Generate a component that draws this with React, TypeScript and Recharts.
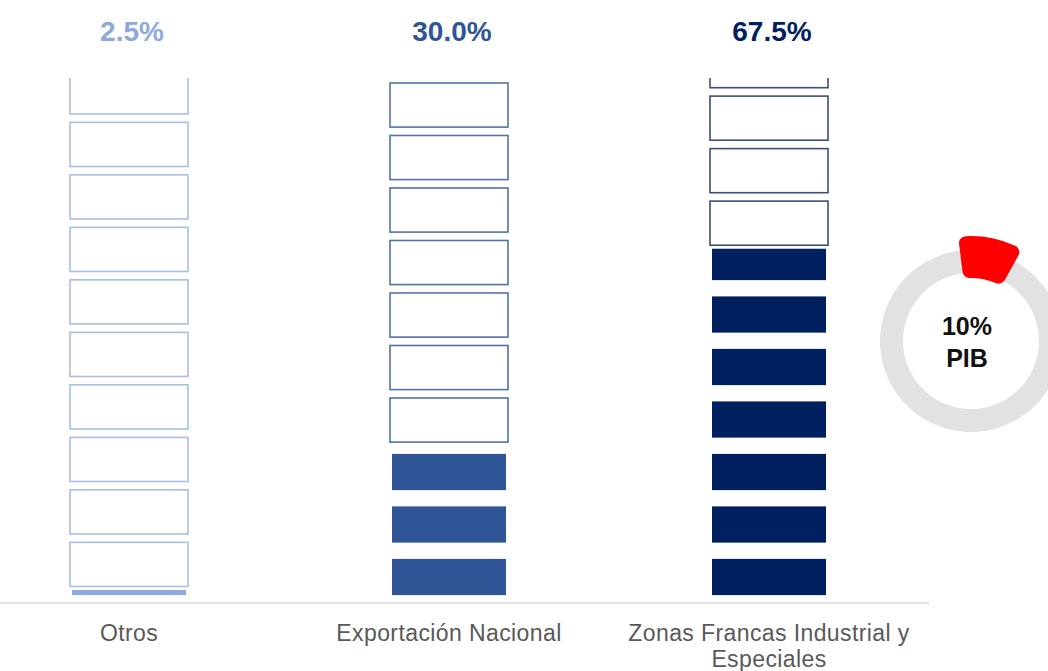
import { Bar, BarChart, Cell, LabelList, Pie, PieChart, XAxis, YAxis } from 'recharts'

const categories = ['Otros', 'Exportación Nacional', 'Zonas Francas Industrial y Especiales']
const shares = [2.5, 30.0, 67.5]
const remainders = [97.5, 70.0, 32.5]
const pibShare = [10, 90]
const pibText = ['10%', 'PIB']

const fillColors = ['#8EA9DB', '#2F5597', '#002060']
const outlineColors = ['#A9BEE6', '#5471AC', '#3B4F7A']
const FONT = '"Liberation Sans", Arial, sans-serif'

const data = categories.map((name, i) => ({ name, share: shares[i], rest: remainders[i] }))
const ring = [{ v: 100 }]
const pibData = pibShare.map((v, i) => ({ name: i === 0 ? 'PIB' : 'resto', v }))

// each 10% is one block, drawn inside the stacked segment and clipped to it
function blocks(key: 'share' | 'rest') {
  return (props: any) => {
    const { x, y, width, height, index, payload } = props
    const val = payload[key]
    if (!height || !val) return <g />
    const unit = height / (val / 10)
    const n = Math.ceil(val / 10 - 1e-9)
    const id = `clip-${key}-${index}`
    const rects = []
    for (let k = 0; k < n; k++) {
      const bottom = y + height - k * unit
      if (key === 'share') {
        rects.push(
          <rect key={k} x={x + 3} y={bottom - 0.84 * unit} width={width - 6} height={0.69 * unit} fill={fillColors[index]} />,
        )
      } else {
        rects.push(
          <rect
            key={k}
            x={x + 1}
            y={bottom - 0.905 * unit}
            width={width - 2}
            height={0.84 * unit}
            fill="#fff"
            stroke={outlineColors[index]}
            strokeWidth={1.6}
          />,
        )
      }
    }
    return (
      <g>
        <defs>
          <clipPath id={id}>
            <rect x={x - 3} y={y} width={width + 6} height={height} />
          </clipPath>
        </defs>
        <g clipPath={`url(#${id})`}>{rects}</g>
      </g>
    )
  }
}

// wrap words into lines of at most 26 characters
function wrap(label: string) {
  const lines: string[] = []
  let cur = ''
  for (const w of label.split(' ')) {
    const next = cur ? `${cur} ${w}` : w
    if (next.length > 26 && cur) {
      lines.push(cur)
      cur = w
    } else cur = next
  }
  if (cur) lines.push(cur)
  return lines
}

function CategoryTick(props: any) {
  const { x, y, payload } = props
  return (
    <text
      x={x}
      y={y + 36}
      textAnchor="middle"
      fontSize={23}
      letterSpacing={0.4}
      fontFamily={FONT}
      fill="#595959"
    >
      {wrap(payload.value).map((line, i) => (
        <tspan key={i} x={x} dy={i === 0 ? 0 : 26}>
          {line}
        </tspan>
      ))}
    </text>
  )
}

export default function App() {
  return (
    <div style={{ position: 'absolute', left: 0, top: 0, width: 1048, height: 671, overflow: 'hidden', background: '#fff' }}>
      <BarChart
        width={960}
        height={671}
        data={data}
        margin={{ top: 78, right: 0, left: 0, bottom: 0 }}
        style={{ position: 'absolute', left: -31, top: 0 }}
      >
        <XAxis
          dataKey="name"
          height={68}
          interval={0}
          tickLine={false}
          tickSize={0}
          axisLine={{ stroke: '#D9D9D9', strokeWidth: 1.5 }}
          tick={<CategoryTick />}
        />
        <YAxis hide type="number" domain={[0, 100]} />
        <Bar dataKey="share" stackId="a" barSize={120} isAnimationActive={false} shape={blocks('share')}>
          <LabelList
            dataKey="share"
            content={(p: any) => (
              <text
                x={p.x + p.width / 2 + 3}
                y={41}
                textAnchor="middle"
                fontSize={28}
                fontWeight="bold"
                fontFamily={FONT}
                fill={fillColors[p.index]}
              >
                {shares[p.index].toFixed(1)}%
              </text>
            )}
          />
        </Bar>
        <Bar dataKey="rest" stackId="a" barSize={120} isAnimationActive={false} shape={blocks('rest')} />
      </BarChart>

      <PieChart width={240} height={240} style={{ position: 'absolute', left: 846, top: 216 }}>
        <Pie
          data={ring}
          dataKey="v"
          cx={120}
          cy={120}
          innerRadius={68}
          outerRadius={91}
          startAngle={90}
          endAngle={-270}
          fill="#E2E2E2"
          stroke="none"
          isAnimationActive={false}
        />
        <Pie
          data={pibData}
          dataKey="v"
          cx={120}
          cy={120}
          innerRadius={63}
          outerRadius={105}
          startAngle={97}
          endAngle={-263}
          cornerRadius={7}
          stroke="none"
          isAnimationActive={false}
        >
          {pibData.map((d, i) => (
            <Cell key={d.name} fill={i === 0 ? '#FF0000' : 'transparent'} />
          ))}
        </Pie>
      </PieChart>
      <svg width={240} height={240} style={{ position: 'absolute', left: 846, top: 216 }}>
        <g fontFamily={FONT} fontWeight="bold" fontSize={25} fill="#111" textAnchor="middle">
          <text x={121} y={119}>{pibText[0]}</text>
          <text x={121} y={151}>{pibText[1]}</text>
        </g>
      </svg>
    </div>
  )
}
